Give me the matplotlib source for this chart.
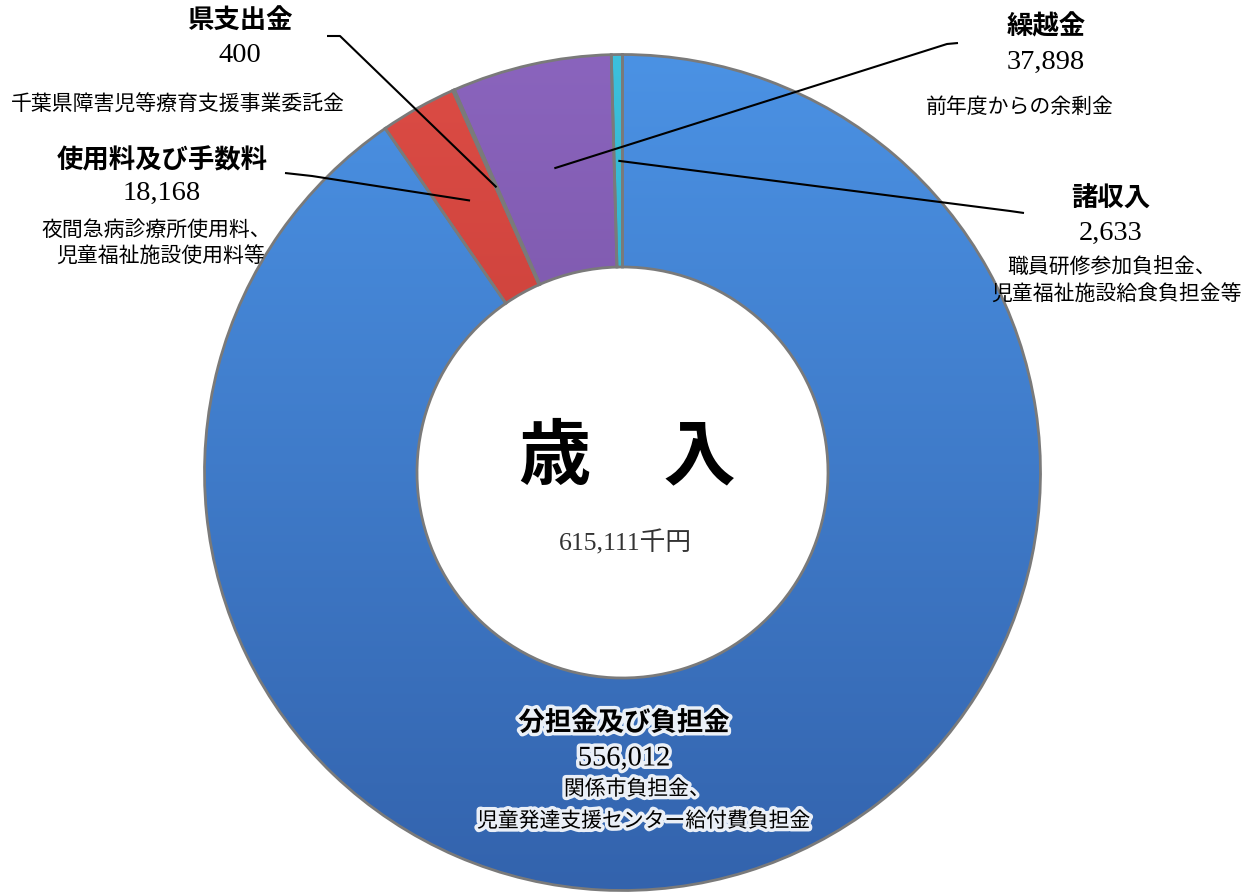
import numpy as np
import matplotlib
matplotlib.use("Agg")
import matplotlib.pyplot as plt
import matplotlib.patheffects as pe
from matplotlib.colors import to_rgb

# ---------------- data ----------------
categories = ['分担金及び負担金', '使用料及び手数料', '県支出金', '繰越金', '諸収入']
values = [556012, 18168, 400, 37898, 2633]
descriptions = [
    ['関係市負担金、', '児童発達支援センター給付費負担金'],
    ['夜間急病診療所使用料、', '児童福祉施設使用料等'],
    ['千葉県障害児等療育支援事業委託金'],
    ['前年度からの余剰金'],
    ['職員研修参加負担金、', '児童福祉施設給食負担金等'],
]
center_title = '歳　入'
total_label = f'{sum(values):,}千円'

# colours (top, bottom of gradient)
grad_colors = [
    ('#4b92e4', '#3363ad'),
    ('#dc4c45', '#b6332e'),
    ('#9bbb59', '#7f9a45'),
    ('#8a64bd', '#6a4792'),
    ('#3cc0dc', '#2596b4'),
]

W, H = 1257, 895
fig = plt.figure(figsize=(W / 100, H / 100), dpi=100)
ax = fig.add_axes([0, 0, 1, 1])

cx, cy = 622.5, H - 473.5
R = 418.0
ring = 212.5

wedges, _ = ax.pie(values, colors=[c[0] for c in grad_colors], startangle=90,
                   counterclock=False, radius=R, center=(cx, cy),
                   wedgeprops=dict(width=ring, edgecolor='none', linewidth=0),
                   frame=True)

# gradient fill clipped to each wedge
for w, (c1, c2) in zip(wedges, grad_colors):
    a = np.array(to_rgb(c1))
    b = np.array(to_rgb(c2))
    t = np.linspace(0, 1, 256)[:, None]
    grad = (a[None, :] * (1 - t) + b[None, :] * t)[:, None, :]
    im = ax.imshow(grad, extent=(cx - R, cx + R, cy - R, cy + R), origin='upper',
                   aspect='auto', interpolation='bilinear', zorder=1.5)
    im.set_clip_path(w)

# outlines
ax.pie(values, startangle=90, counterclock=False, radius=R, center=(cx, cy),
       wedgeprops=dict(width=ring, edgecolor='#7a7a7a', linewidth=2.0,
                       facecolor='none', zorder=3), frame=True)

ax.set_xlim(0, W)
ax.set_ylim(0, H)
ax.set_aspect('equal', adjustable='box')
ax.axis('off')

JP = ['Noto Sans CJK JP', 'DejaVu Sans']
NUM = ['Liberation Serif', 'Noto Sans CJK JP']


def txt(x, y, s, size, family, weight='normal', glow=False, color='black'):
    kw = {}
    if glow:
        kw['path_effects'] = [pe.withStroke(linewidth=5, foreground='white', alpha=0.9)]
    ax.text(x, H - y, s, fontsize=size, family=family, weight=weight, color=color,
            ha='center', va='center', zorder=5, **kw)


# label layout: (title xy, number xy, description line xys, glow)
layout = {
    0: dict(title=(624, 724), num=(624, 760), desc=[(637, 790), (644, 822)], glow=True),
    1: dict(title=(162, 161), num=(162, 193), desc=[(156, 230), (161, 257)], glow=False),
    2: dict(title=(240, 20), num=(240, 55), desc=[(178, 105)], glow=False),
    3: dict(title=(1046, 27), num=(1046, 62), desc=[(1020, 107)], glow=False),
    4: dict(title=(1111, 199), num=(1111, 233), desc=[(1112, 267), (1117, 294)], glow=False),
}

for i, cat in enumerate(categories):
    L = layout[i]
    txt(*L['title'], cat, 19, JP, weight='bold', glow=L['glow'])
    txt(*L['num'], f'{values[i]:,}', 20.5, NUM, glow=L['glow'])
    for (x, y), line in zip(L['desc'], descriptions[i]):
        txt(x, y, line, 15, JP, glow=L['glow'])

# leader lines: from label elbow to middle of the ring at wedge mid-angle
leader_start = {
    1: [(285, 174), (312, 177)],
    2: [(327, 37), (340, 37)],
    3: [(958, 44), (947, 45)],
    4: [(1024, 214), (1010, 212)],
}
rmid = R - ring / 2
for i, pts in leader_start.items():
    w = wedges[i]
    ang = np.deg2rad((w.theta1 + w.theta2) / 2)
    ex, ey = cx + rmid * np.cos(ang), cy + rmid * np.sin(ang)
    xs = [p[0] for p in pts] + [ex]
    ys = [H - p[1] for p in pts] + [ey]
    ax.plot(xs, ys, color='black', lw=1.5, zorder=4, solid_capstyle='butt')

# centre text
txt(627, 457, center_title, 52, JP, weight='bold')
txt(625, 543, total_label, 18.5, NUM, color='#333333')

fig.savefig('out.png', dpi=100)
